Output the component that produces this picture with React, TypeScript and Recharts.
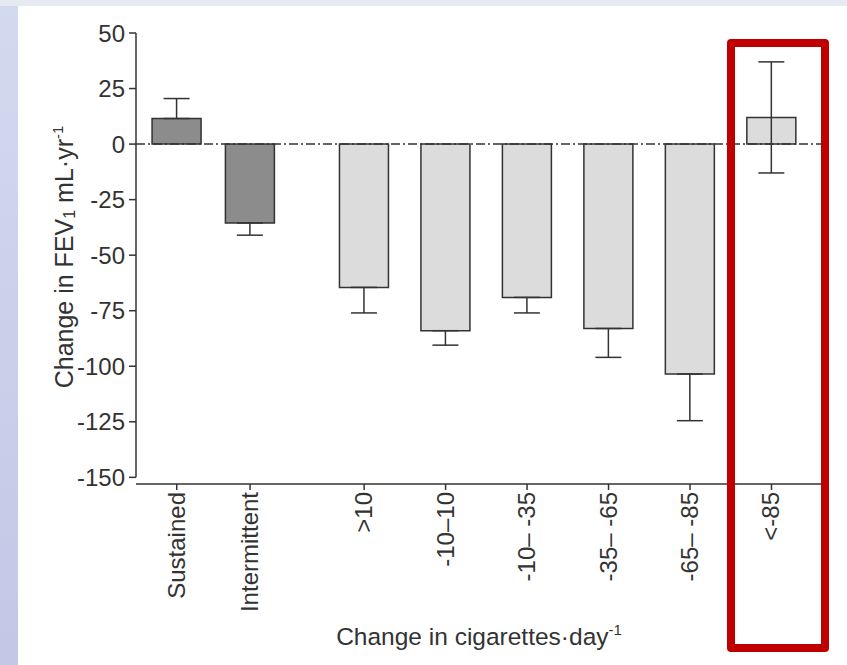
import { BarChart, Bar, XAxis, YAxis, ErrorBar, ReferenceLine, Cell } from "recharts";

const FONT = "'Liberation Sans', Arial, Helvetica, sans-serif";
const INK = "#333333";

// groups along the x axis, with a gap after the two quit patterns
const categories = ["Sustained", "Intermittent", ">10", "-10–10", "-10– -35", "-35– -65", "-65– -85", "<-85"];
const slots = [0.5, 1.4, 2.8, 3.8, 4.8, 5.8, 6.8, 7.8];
const groups = ["quit", "quit", "reduce", "reduce", "reduce", "reduce", "reduce", "reduce"];

// FEV1 decline, mL/yr, and its SEM below / above the mean
const means = [11.5, -35.5, -64.5, -84, -69, -83, -103.5, 12];
const errDown = [0, 5.5, 11.5, 6.5, 7, 13, 21, 25];
const errUp = [9, 0, 0, 0, 0, 0, 0, 25];

const yTicks = [50, 25, 0, -25, -50, -75, -100, -125, -150];

const groupFill: Record<string, string> = { quit: "#8c8c8c", reduce: "#dcdcdd" };

const data = categories.map((name, i) => ({
  name,
  slot: slots[i],
  mean: means[i],
  err: [errDown[i], errUp[i]],
  group: groups[i],
}));

function CatTick(props: any) {
  const { x, y, payload } = props;
  const i = slots.indexOf(payload.value);
  return (
    <text
      transform={`translate(${x + 8}, ${y}) rotate(-90)`}
      textAnchor="end"
      fontSize={24}
      fontFamily={FONT}
      fill={INK}
    >
      {categories[i]}
    </text>
  );
}

function XTitle(props: any) {
  const vb = props.viewBox || { x: 136, y: 484, width: 686 };
  return (
    <text x={vb.x + vb.width / 2} y={vb.y + 161} textAnchor="middle" fontSize={24.5} fontFamily={FONT} fill={INK}>
      Change in cigarettes·day
      <tspan fontSize={15} dy={-10}>-1</tspan>
    </text>
  );
}

function YTitle() {
  return (
    <text transform="translate(73, 257) rotate(-90)" textAnchor="middle" fontSize={25} fontFamily={FONT} fill={INK}>
      Change in FEV
      <tspan fontSize={16} dy={2}>1</tspan>
      <tspan dy={-2}> mL·yr</tspan>
      <tspan fontSize={15} dy={-10}>-1</tspan>
    </text>
  );
}

export default function App() {
  return (
    <div
      style={{
        position: "absolute",
        left: 0,
        top: 0,
        width: 847,
        height: 665,
        overflow: "hidden",
        background: "linear-gradient(to bottom, #d3d9ee, #c2c8e6)",
      }}
    >
      <div style={{ position: "absolute", left: 0, top: 0, width: 847, height: 6, background: "#e6eaf3" }} />
      <div style={{ position: "absolute", left: 18, top: 6, right: 0, bottom: 0, background: "#ffffff" }} />
      <div style={{ position: "absolute", left: 0, top: 0 }}>
        <BarChart
          width={847}
          height={665}
          data={data}
          barSize={49}
          margin={{ top: 33, right: 25, bottom: 31, left: 0 }}
        >
          <XAxis
            xAxisId="main"
            type="number"
            dataKey="slot"
            domain={[0, 8.42]}
            ticks={slots}
            interval={0}
            allowDataOverflow
            height={150}
            tick={<CatTick />}
            tickSize={6}
            tickLine={{ stroke: INK, strokeWidth: 1.5 }}
            axisLine={{ stroke: INK, strokeWidth: 1.5 }}
            label={(p: any) => <XTitle {...p} />}
          />
          <XAxis
            xAxisId="err"
            orientation="top"
            type="number"
            dataKey="slot"
            domain={[0, 8.42]}
            allowDataOverflow
            hide
          />
          <YAxis
            type="number"
            domain={[-153, 50]}
            ticks={yTicks}
            interval={0}
            allowDataOverflow
            width={136}
            axisLine={false}
            tickSize={7}
            tickMargin={4}
            tickLine={{ stroke: INK, strokeWidth: 1.5 }}
            tick={{ fontSize: 24, fill: INK, fontFamily: FONT }}
            label={() => <YTitle />}
          />
          <ReferenceLine
            xAxisId="main"
            segment={[
              { x: 0, y: -150 },
              { x: 0, y: 50 },
            ]}
            stroke={INK}
            strokeWidth={1.5}
          />
          <ReferenceLine xAxisId="main" y={0} stroke={INK} strokeWidth={1.5} strokeDasharray="9 3 2 3" />
          <Bar xAxisId="err" dataKey="mean" fill="none" stroke="none" isAnimationActive={false}>
            <ErrorBar dataKey="err" direction="y" width={13} stroke={INK} strokeWidth={1.5} />
          </Bar>
          <Bar xAxisId="main" dataKey="mean" stroke={INK} strokeWidth={1.5} isAnimationActive={false}>
            {data.map((d) => (
              <Cell key={d.name} fill={groupFill[d.group]} />
            ))}
          </Bar>
        </BarChart>
      </div>
      <div
        style={{
          position: "absolute",
          left: 727,
          top: 39,
          width: 102,
          height: 613,
          boxSizing: "border-box",
          border: "8px solid #c00000",
          borderRadius: 4,
        }}
      />
    </div>
  );
}
